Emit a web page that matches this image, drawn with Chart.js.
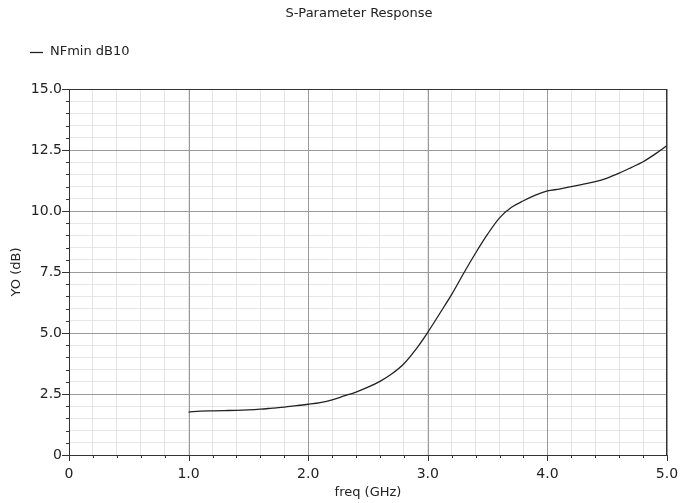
<!DOCTYPE html>
<html>
<head>
<meta charset="utf-8">
<script src="https://cdn.jsdelivr.net/npm/chart.js@4/dist/chart.umd.min.js"></script>
<style>
  html, body { margin: 0; padding: 0; background: #fff; }
  #wrap { width: 680px; height: 503px; }
</style>
</head>
<body>
<div id="wrap"><canvas id="chart" width="680" height="503"></canvas></div>
<script>
// values
const chartTitle = 'S-Parameter Response';
const seriesLabel = 'NFmin dB10';
const freqGHz = [1.0, 1.1, 1.2, 1.3, 1.4, 1.5, 1.6, 1.7, 1.8, 1.9,
                 2.0, 2.1, 2.2, 2.3, 2.4, 2.5, 2.6, 2.7, 2.8, 2.9,
                 3.0, 3.1, 3.2, 3.3, 3.4, 3.5, 3.6, 3.7, 3.8, 3.9,
                 4.0, 4.1, 4.2, 4.3, 4.4, 4.5, 4.6, 4.7, 4.8, 4.9, 5.0];
const nfminDb = [1.76, 1.80, 1.81, 1.82, 1.83, 1.85, 1.88, 1.92, 1.96, 2.02,
                 2.08, 2.15, 2.26, 2.42, 2.58, 2.78, 3.02, 3.33, 3.74, 4.33,
                 5.03, 5.80, 6.58, 7.45, 8.28, 9.05, 9.72, 10.15, 10.42, 10.65,
                 10.82, 10.90, 11.00, 11.10, 11.20, 11.35, 11.55, 11.78, 12.02, 12.33, 12.68];
const xRange = [0, 5];
const xMajorStep = 1.0;
const xMinorStep = 0.2;
const yRange = [0, 15];
const yMajorStep = 2.5;
const yMinorStep = 0.5;

const FONT = 'DejaVu Sans';
const TEXT = '#222';
const MAJOR_GRID = '#999';
const MINOR_GRID = '#e6e6e6';

// is this tick value on a major step?
const isMajor = (v, step) => Math.abs(v / step - Math.round(v / step)) < 1e-6;
const fmt = (v) => (Math.abs(v) < 1e-9 ? '0' : v.toFixed(1));

// major grid lines go over the minor ones
const majorGridPlugin = {
  id: 'majorGrid',
  beforeDatasetsDraw(chart) {
    const { ctx, chartArea: a } = chart;
    const xs = chart.scales.x, ys = chart.scales.y;
    ctx.save();
    ctx.strokeStyle = MAJOR_GRID;
    ctx.lineWidth = 1;
    ctx.beginPath();
    xs.ticks.forEach((t, i) => {
      if (!isMajor(t.value, xMajorStep)) return;
      const px = Math.round(xs.getPixelForTick(i)) + 0.5;
      ctx.moveTo(px, a.top);
      ctx.lineTo(px, a.bottom);
    });
    ys.ticks.forEach((t, i) => {
      if (!isMajor(t.value, yMajorStep)) return;
      const py = Math.round(ys.getPixelForTick(i)) + 0.5;
      ctx.moveTo(a.left, py);
      ctx.lineTo(a.right, py);
    });
    ctx.stroke();
    ctx.restore();
  }
};

// title, legend, outer box and tick marks
const decorPlugin = {
  id: 'decor',
  afterDraw(chart) {
    const { ctx, chartArea: a } = chart;
    ctx.save();
    ctx.fillStyle = TEXT;
    ctx.font = '13px "' + FONT + '"';
    ctx.textBaseline = 'middle';
    ctx.textAlign = 'center';
    ctx.fillText(chartTitle, 359, 14);

    // legend
    const ds = chart.data.datasets[0];
    ctx.strokeStyle = ds.borderColor;
    ctx.lineWidth = 1.3;
    ctx.beginPath();
    ctx.moveTo(30, 52.5);
    ctx.lineTo(43, 52.5);
    ctx.stroke();
    ctx.textAlign = 'left';
    ctx.fillText(ds.label, 50, 52);

    // frame
    ctx.strokeStyle = '#333';
    ctx.lineWidth = 1;
    ctx.strokeRect(Math.round(a.left) + 0.5, Math.round(a.top) + 0.5,
                   Math.round(a.right - a.left) - 1, Math.round(a.bottom - a.top));

    // tick marks
    const xs = chart.scales.x, ys = chart.scales.y;
    ctx.beginPath();
    xs.ticks.forEach((t, i) => {
      const px = Math.round(xs.getPixelForTick(i)) + 0.5;
      const len = isMajor(t.value, xMajorStep) ? 6 : 3;
      ctx.moveTo(px, a.bottom);
      ctx.lineTo(px, a.bottom + len);
    });
    ys.ticks.forEach((t, i) => {
      const py = Math.round(ys.getPixelForTick(i)) + 0.5;
      const len = isMajor(t.value, yMajorStep) ? 7 : 3;
      ctx.moveTo(a.left, py);
      ctx.lineTo(a.left - len, py);
    });
    ctx.stroke();
    ctx.restore();
  }
};

new Chart(document.getElementById('chart'), {
  type: 'line',
  data: {
    datasets: [{
      label: seriesLabel,
      data: freqGHz.map((f, i) => ({ x: f, y: nfminDb[i] })),
      borderColor: '#222',
      borderWidth: 1.3,
      pointRadius: 0,
      fill: false,
      cubicInterpolationMode: 'monotone'
    }]
  },
  options: {
    responsive: false,
    animation: false,
    layout: { padding: { top: 89, right: 13, left: 0, bottom: 0 } },
    plugins: {
      legend: { display: false },
      title: { display: false },
      tooltip: { enabled: false }
    },
    scales: {
      x: {
        type: 'linear',
        min: xRange[0],
        max: xRange[1],
        afterFit: (s) => { s.height = 48; s.paddingLeft = 0; s.paddingRight = 0; },
        ticks: {
          stepSize: xMinorStep,
          autoSkip: false,
          maxRotation: 0,
          padding: 11,
          color: TEXT,
          font: { family: FONT, size: 14 },
          callback: (v) => (isMajor(v, xMajorStep) ? fmt(v) : '')
        },
        grid: {
          drawTicks: false,
          color: MINOR_GRID,
          lineWidth: 1
        },
        border: { display: true, color: '#333', width: 1 },
        title: {
          display: true,
          text: 'freq (GHz)',
          color: TEXT,
          font: { family: FONT, size: 13 },
          padding: { top: 0, bottom: 3 }
        }
      },
      y: {
        min: yRange[0],
        max: yRange[1],
        afterFit: (s) => { s.width = 69; },
        ticks: {
          stepSize: yMinorStep,
          autoSkip: false,
          padding: 7,
          color: TEXT,
          font: { family: FONT, size: 14 },
          callback: (v) => (isMajor(v, yMajorStep) ? fmt(v) : '')
        },
        grid: {
          drawTicks: false,
          color: MINOR_GRID,
          lineWidth: 1
        },
        border: { display: true, color: '#333', width: 1 },
        title: {
          display: true,
          text: 'YO (dB)',
          color: TEXT,
          font: { family: FONT, size: 13 },
          padding: { top: 9, bottom: 0 }
        }
      }
    }
  },
  plugins: [majorGridPlugin, decorPlugin]
});
</script>
</body>
</html>
